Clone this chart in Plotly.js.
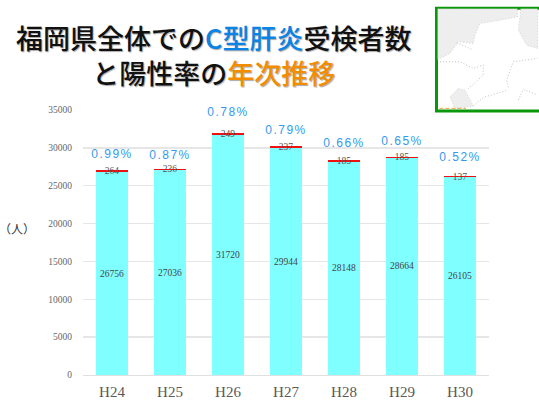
<!DOCTYPE html>
<html><head><meta charset="utf-8">
<script src="https://cdn.plot.ly/plotly-3.0.1.min.js"></script>
<style>
html,body{margin:0;padding:0;background:#fff}
.rate-fix .scatterlayer .textpoint text{letter-spacing:1.5px}
</style></head>
<body><div id="chart" style="width:539px;height:400px"></div>
<script>
const years = ['H24','H25','H26','H27','H28','H29','H30'];
const negatives = [26756,27036,31720,29944,28148,28664,26105];
const positives = [264,236,249,237,185,185,137];
const rateLabels = ['0.99%','0.87%','0.78%','0.79%','0.66%','0.65%','0.52%'];
const rateLabelHeights = [29050,28900,34600,32200,30500,30750,28650];
const yTicks = [0,5000,10000,15000,20000,25000,30000,35000];

const L=83,R=489,T=110,B=375.5;
const px=x=>(x-L)/(R-L), py=y=>(B-y)/(B-T);
const cx=x=>px(430+x/3), cy=y=>py(y/3);
function path(pts,close){return pts.map((p,i)=>(i?'L':'M')+cx(p[0]).toFixed(4)+' '+cy(p[1]).toFixed(4)).join(' ')+(close?' Z':'');}
function mapFill(pts){return {type:'path',xref:'paper',yref:'paper',layer:'above',path:path(pts,true),fillcolor:'#eeeeee',line:{color:'#b8b8b8',width:0.6,dash:'1px,2px'}};}
function mapLine(pts,c){return {type:'path',xref:'paper',yref:'paper',layer:'above',path:path(pts,false),fillcolor:'rgba(0,0,0,0)',line:{color:c||'#a8a8a8',width:0.7,dash:'1px,2px'}};}

const shapes=[
 {type:'rect',xref:'paper',yref:'paper',layer:'above',x0:px(436.5),x1:px(545),y0:py(111),y1:py(8),fillcolor:'#ffffff',line:{color:'#0a980a',width:3}},
 mapFill([[23,26],[262,26],[262,50],[210,60],[150,70],[135,105],[130,130],[85,125],[60,160],[23,178]]),
 mapFill([[272,26],[323,26],[323,145],[290,135],[265,90],[270,50]]),
 mapFill([[60,290],[85,265],[105,270],[130,318],[75,326]]),
 mapLine([[30,185],[90,185],[130,205],[160,195],[160,225],[110,270]]),
 mapLine([[130,318],[160,292],[235,270]]),
 mapLine([[235,262],[230,240],[250,185],[323,175]]),
 mapLine([[265,300],[280,268],[323,285]]),
 mapLine([[80,128],[130,150]]),
 {type:'line',xref:'paper',yref:'paper',layer:'above',x0:cx(28),x1:cx(108),y0:cy(325),y1:cy(325),line:{color:'#f3a53a',width:1,dash:'4px,2px'}}
];

const blue='#0a84e6', orange='#f28c00';
const titleFont={family:'"Noto Sans CJK JP","Noto Sans",sans-serif',size:27,color:'#111',weight:500,shadow:'1px 1px 1px #aaa'};

const annotations=[
 {xref:'paper',yref:'paper',x:px(213),y:py(55),xanchor:'center',yanchor:'middle',align:'center',showarrow:false,font:titleFont,
  text:`福岡県全体での<span style="color:${blue}">C型肝炎</span>受検者数<br>と陽性率の<span style="color:${orange}">年次推移</span>`},
 {xref:'paper',yref:'paper',x:px(17),y:py(229),xanchor:'center',yanchor:'middle',showarrow:false,
  font:{family:'"Noto Sans CJK JP",sans-serif',size:12,color:'#333'},text:'（人）'}
];

const inFont={family:'"Liberation Serif",serif',size:9.5,color:'#444'};
const data=[
 {type:'bar',x:years,y:negatives,marker:{color:'#7fffff'},text:negatives.map(String),textposition:'inside',insidetextanchor:'middle',insidetextfont:inFont,constraintext:'none',textangle:0,hoverinfo:'skip'},
 {type:'bar',x:years,y:positives,marker:{color:'#f01010'},text:positives.map(String),textposition:'inside',insidetextanchor:'middle',insidetextfont:{family:'"Liberation Serif",serif',size:9.5,color:'#555'},constraintext:'none',textangle:0,hoverinfo:'skip'},
 {type:'scatter',mode:'text',x:years,y:rateLabelHeights,text:rateLabels,textposition:'middle center',cliponaxis:false,textfont:{family:'"Liberation Sans",sans-serif',size:12,color:'#3399ee'},hoverinfo:'skip'}
];

const layout={
 width:539,height:400,autosize:false,showlegend:false,barmode:'stack',bargap:0.44,
 paper_bgcolor:'#fff',plot_bgcolor:'#fff',
 margin:{l:L,r:539-R,t:T,b:400-B,pad:0},
 xaxis:{type:'category',tickfont:{family:'"Liberation Serif",serif',size:15,color:'#595959'},ticks:'outside',ticklen:3,tickcolor:'rgba(0,0,0,0)',showline:true,linecolor:'#e0e0e0',linewidth:1,showgrid:false,fixedrange:true},
 yaxis:{range:[0,35000],tickvals:yTicks,ticktext:yTicks.map(String),tickfont:{family:'"Liberation Serif",serif',size:9.5,color:'#666'},ticks:'outside',ticklen:8,tickcolor:'rgba(0,0,0,0)',gridcolor:'#e6e6e6',gridwidth:1.5,zeroline:false,showline:false,fixedrange:true},
 shapes,annotations
};
const gd=document.getElementById('chart');
gd.classList.add('rate-fix');
Plotly.newPlot(gd,data,layout,{displayModeBar:false,staticPlot:true});
</script></body></html>
